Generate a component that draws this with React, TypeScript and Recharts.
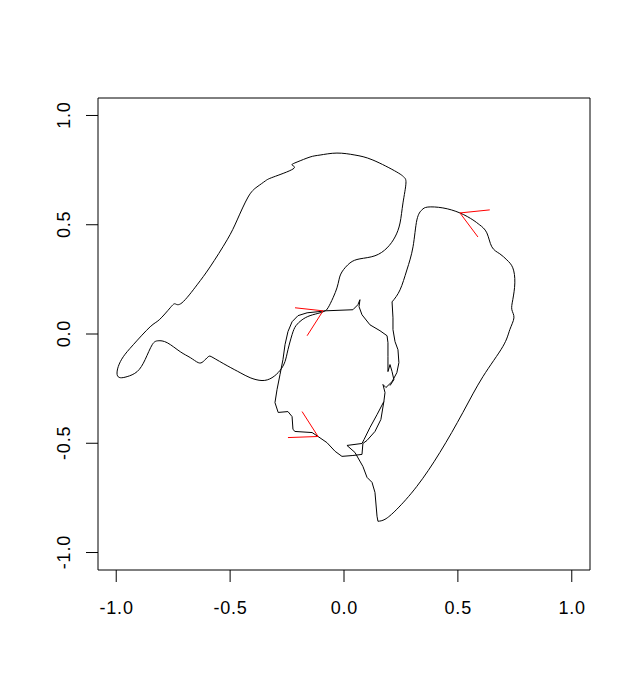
import React from 'react';
import { ScatterChart, Scatter, XAxis, YAxis, ReferenceArea } from 'recharts';

type P = [number, number];

const axisTicks = [-1, -0.5, 0, 0.5, 1];
const tickLabels = ['-1.0', '-0.5', '0.0', '0.5', '1.0'];
const domain: [number, number] = [-1.08, 1.08];

const leftLobe: P[] = [
  [-0.083, 0.106], [-0.070, 0.120], [-0.048, 0.166], [-0.031, 0.211], [-0.022, 0.248], [-0.009, 0.284],
  [0.026, 0.325], [0.070, 0.344], [0.136, 0.358], [0.189, 0.394], [0.224, 0.444], [0.246, 0.508],
  [0.259, 0.600], [0.272, 0.691], [0.263, 0.718], [0.232, 0.741], [0.127, 0.796], [0.048, 0.819],
  [-0.031, 0.828], [-0.105, 0.819], [-0.149, 0.810], [-0.206, 0.787], [-0.228, 0.773], [-0.224, 0.755],
  [-0.311, 0.718], [-0.346, 0.700], [-0.382, 0.673], [-0.421, 0.627], [-0.469, 0.522], [-0.513, 0.431],
  [-0.588, 0.307], [-0.645, 0.225], [-0.711, 0.143], [-0.741, 0.138], [-0.763, 0.120], [-0.811, 0.065],
  [-0.851, 0.033], [-0.925, -0.049], [-0.969, -0.104], [-0.991, -0.149], [-0.996, -0.186], [-0.982, -0.200],
  [-0.952, -0.195], [-0.908, -0.172], [-0.873, -0.117], [-0.842, -0.049], [-0.816, -0.031], [-0.776, -0.040],
  [-0.719, -0.081], [-0.675, -0.108], [-0.640, -0.131], [-0.618, -0.126], [-0.596, -0.104], [-0.575, -0.108],
  [-0.513, -0.145], [-0.456, -0.177], [-0.412, -0.200], [-0.360, -0.213], [-0.316, -0.200], [-0.281, -0.167],
  [-0.259, -0.126], [-0.246, -0.072], [-0.228, -0.003], [-0.211, 0.038], [-0.184, 0.065], [-0.149, 0.084],
  [-0.105, 0.097], [-0.083, 0.106],
];

const centerTop: P[] = [
  [-0.083, 0.106], [0.039, 0.111], [0.061, 0.134], [0.070, 0.157], [0.066, 0.125], [0.079, 0.088],
  [0.114, 0.042], [0.158, 0.015], [0.189, -0.008], [0.193, -0.040], [0.193, -0.104], [0.193, -0.172],
  [0.202, -0.140], [0.211, -0.172], [0.219, -0.209], [0.202, -0.236],
];

const rightLobeOuter: P[] = [
  [0.211, 0.147], [0.246, 0.202], [0.276, 0.293],
  [0.303, 0.399], [0.320, 0.522], [0.342, 0.568], [0.368, 0.581], [0.434, 0.577], [0.509, 0.554],
  [0.566, 0.522], [0.596, 0.499], [0.627, 0.463], [0.649, 0.399], [0.684, 0.367], [0.715, 0.339],
  [0.741, 0.303], [0.750, 0.234], [0.741, 0.157], [0.737, 0.111], [0.746, 0.074], [0.728, 0.020],
  [0.697, -0.058], [0.610, -0.195], [0.522, -0.359], [0.421, -0.542], [0.320, -0.697], [0.232, -0.802],
  [0.180, -0.848], [0.149, -0.857],
];

const rightLobeInner: P[] = [
  [0.149, -0.857], [0.145, -0.834], [0.136, -0.725], [0.123, -0.679], [0.101, -0.656],
  [0.083, -0.606], [0.048, -0.542], [0.013, -0.510], [0.079, -0.501], [0.088, -0.483], [0.114, -0.428],
  [0.145, -0.369], [0.175, -0.309], [0.180, -0.268], [0.171, -0.231], [0.184, -0.245], [0.211, -0.218],
  [0.232, -0.177], [0.241, -0.131], [0.237, -0.072], [0.224, -0.035], [0.215, 0.020], [0.215, 0.074],
  [0.211, 0.147],
];

const centerLoop: P[] = [
  [0.175, -0.309], [0.162, -0.391], [0.136, -0.446], [0.101, -0.487], [0.083, -0.501], [0.079, -0.551],
  [0.039, -0.556], [-0.009, -0.560], [-0.039, -0.537], [-0.075, -0.497], [-0.114, -0.469], [-0.140, -0.451],
  [-0.215, -0.446], [-0.224, -0.437], [-0.228, -0.378], [-0.246, -0.355], [-0.289, -0.359], [-0.303, -0.314],
  [-0.294, -0.254], [-0.281, -0.186], [-0.268, -0.117], [-0.259, -0.049], [-0.246, 0.011], [-0.228, 0.056],
  [-0.202, 0.084], [-0.162, 0.097], [-0.114, 0.102], [-0.083, 0.106],
];

const arrowA: P[] = [[-0.215, 0.120], [-0.092, 0.106], [-0.162, -0.008]];
const arrowB: P[] = [[0.640, 0.568], [0.509, 0.554], [0.588, 0.444]];
const arrowC: P[] = [[-0.246, -0.474], [-0.114, -0.469], [-0.184, -0.355]];

const curves: { pts: P[]; kind: 'natural' | 'linear' }[] = [
  { pts: leftLobe, kind: 'natural' },
  { pts: centerTop, kind: 'linear' },
  { pts: rightLobeOuter, kind: 'natural' },
  { pts: rightLobeInner, kind: 'linear' },
  { pts: centerLoop, kind: 'linear' },
];
const arrows = [arrowA, arrowB, arrowC];

const toPts = (arr: P[]) => arr.map(([x, y]) => ({ x, y }));
const FONT = 'Arial, "Liberation Sans", sans-serif';

const label = (v: number) => tickLabels[axisTicks.indexOf(v)] ?? v.toFixed(1);

const XTick = (props: any) => {
  const { x, y, payload } = props;
  return (
    <text x={x + 0.4} y={y + 32.2} textAnchor="middle" fontFamily={FONT} fontSize={18} letterSpacing={0.8} fill="#000">
      {label(payload.value)}
    </text>
  );
};

const YTick = (props: any) => {
  const { x, y, payload } = props;
  const bx = x - 16;
  const by = y - 0.4;
  return (
    <text x={bx} y={by} transform={`rotate(-90, ${bx}, ${by})`} textAnchor="middle" fontFamily={FONT} fontSize={18} letterSpacing={0.8} fill="#000">
      {label(payload.value)}
    </text>
  );
};

const Nothing = () => <g />;

export default function App() {
  return (
    <div style={{ position: 'absolute', left: 0, top: 0, background: '#fff' }}>
      <ScatterChart width={641} height={693} margin={{ top: 98, right: 51, bottom: 0, left: 0 }}>
        <XAxis
          type="number"
          dataKey="x"
          domain={domain}
          ticks={axisTicks}
          allowDataOverflow
          height={123}
          axisLine={false}
          tickSize={12}
          tickMargin={0}
          tickLine={{ stroke: '#000' }}
          tick={<XTick />}
          interval={0}
        />
        <YAxis
          type="number"
          dataKey="y"
          domain={domain}
          ticks={axisTicks}
          allowDataOverflow
          width={98}
          axisLine={false}
          tickSize={12}
          tickMargin={0}
          tickLine={{ stroke: '#000' }}
          tick={<YTick />}
          interval={0}
        />
        <ReferenceArea x1={-1.08} x2={1.08} y1={-1.08} y2={1.08} fill="none" stroke="#000" strokeWidth={1} ifOverflow="visible" />
        {curves.map((c, i) => (
          <Scatter
            key={'c' + i}
            data={toPts(c.pts)}
            line={{ stroke: '#000', strokeWidth: 1 }}
            lineType="joint"
            lineJointType={c.kind}
            shape={<Nothing />}
            fill="none"
            isAnimationActive={false}
          />
        ))}
        {arrows.map((c, i) => (
          <Scatter
            key={'a' + i}
            data={toPts(c)}
            line={{ stroke: '#ff0000', strokeWidth: 1 }}
            lineType="joint"
            shape={<Nothing />}
            fill="none"
            isAnimationActive={false}
          />
        ))}
      </ScatterChart>
    </div>
  );
}
